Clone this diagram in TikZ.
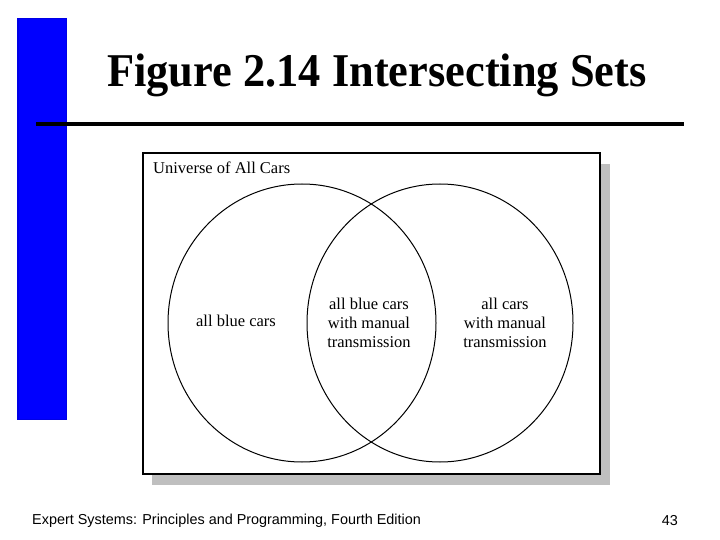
\documentclass[tikz,border=0pt]{standalone}
\usepackage{fontspec}
\setmainfont{Liberation Serif}
\newfontfamily\footfont{Liberation Sans}
\begin{document}
\begin{tikzpicture}[x=1pt,y=-1pt,
  lbl/.style={font=\fontsize{16.5}{19}\selectfont, align=center, inner sep=0pt},
  setcirc/.style={draw=black, line width=1pt},
  footer/.style={font=\footfont\fontsize{14.4}{16}\selectfont, inner sep=0pt}]
\useasboundingbox[fill=white] (0,0) rectangle (720,540);
% blue bar
\fill[blue!90!black] (17,18) rectangle (67,420);
\fill[blue] (18.5,19.5) rectangle (65.5,418.5);
% title
\node[font=\bfseries\fontsize{47}{50}\selectfont, inner sep=0pt, anchor=base, xscale=0.945] (title) at (377,87) {Figure 2.14 Intersecting Sets};
% rule
\draw[line width=4pt] (36,124.5) -- (684,124.5);
% shadow and box
\fill[gray!50] (152,164) rectangle (610,485);
\draw[fill=white, line width=2pt] (142.5,153.5) rectangle (599.5,473.5);
\node[font=\fontsize{16.5}{19}\selectfont, anchor=base west, inner sep=0pt] (univ) at (153,174) {Universe of All Cars};
% circles
\draw[setcirc] (302,323) ellipse [x radius=134, y radius=139];
\draw[setcirc] (440,323) ellipse [x radius=133, y radius=139];
\node[lbl] (blue) at (236,321) {all blue cars};
\node[lbl] (both) at (369,323) {all blue cars\\with manual\\transmission};
\node[lbl] (manual) at (505,323) {all cars\\with manual\\transmission};
% footer
\node[footer, anchor=west] (foot) at (32,521) {Expert Systems: Principles and Programming, Fourth Edition};
\node[footer, anchor=east] (page) at (678,521) {43};
\end{tikzpicture}
\end{document}
